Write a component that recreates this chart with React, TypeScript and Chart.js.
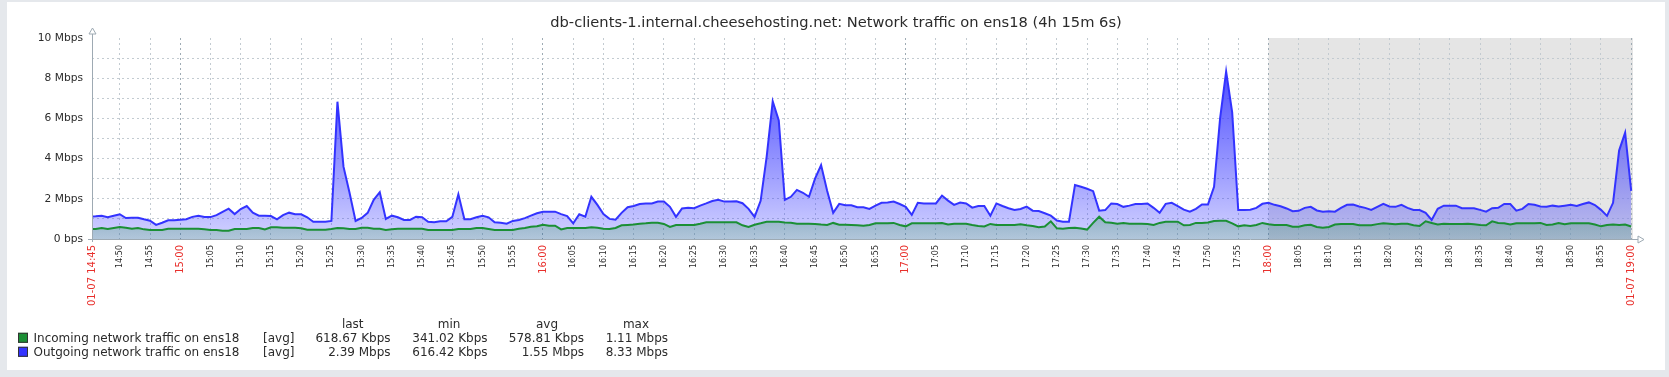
import React, { useEffect, useRef } from 'react';
import { Chart, registerables } from 'chart.js';

Chart.register(...registerables);

const TITLE = 'db-clients-1.internal.cheesehosting.net: Network traffic on ens18 (4h 15m 6s)';

// minutes after 14:45 covered by the plot
const START_MIN = 0.4;
const END_MIN = 255.3;
const WORK_END_MIN = 195; // 18:00, start of the shaded period

// Incoming network traffic on ens18, Mbps, one value per minute from 14:45
const incoming = [
  0.50, 0.50, 0.55, 0.50, 0.55, 0.60, 0.56, 0.51, 0.55, 0.48,
  0.45, 0.45, 0.45, 0.51, 0.51, 0.51, 0.51, 0.51, 0.51, 0.48,
  0.45, 0.45, 0.41, 0.41, 0.50, 0.50, 0.50, 0.55, 0.55, 0.48,
  0.58, 0.58, 0.56, 0.56, 0.56, 0.53, 0.46, 0.46, 0.46, 0.46,
  0.50, 0.55, 0.53, 0.50, 0.50, 0.56, 0.56, 0.51, 0.51, 0.45,
  0.48, 0.51, 0.51, 0.51, 0.51, 0.51, 0.45, 0.45, 0.45, 0.45,
  0.45, 0.50, 0.50, 0.50, 0.55, 0.55, 0.50, 0.45, 0.45, 0.45,
  0.45, 0.51, 0.55, 0.61, 0.63, 0.71, 0.66, 0.66, 0.48, 0.55,
  0.55, 0.55, 0.55, 0.58, 0.56, 0.51, 0.50, 0.55, 0.68, 0.70,
  0.72, 0.76, 0.78, 0.81, 0.81, 0.75, 0.60, 0.70, 0.70, 0.70,
  0.70, 0.76, 0.83, 0.83, 0.83, 0.83, 0.83, 0.83, 0.68, 0.60,
  0.71, 0.78, 0.86, 0.86, 0.86, 0.82, 0.81, 0.76, 0.76, 0.76,
  0.75, 0.72, 0.70, 0.80, 0.71, 0.71, 0.70, 0.68, 0.66, 0.70,
  0.78, 0.78, 0.78, 0.80, 0.70, 0.63, 0.78, 0.78, 0.78, 0.78,
  0.78, 0.80, 0.72, 0.76, 0.76, 0.76, 0.70, 0.65, 0.62, 0.75,
  0.70, 0.70, 0.70, 0.70, 0.73, 0.68, 0.65, 0.58, 0.62, 0.88,
  0.53, 0.51, 0.55, 0.56, 0.52, 0.47, 0.80, 1.11, 0.83, 0.81,
  0.76, 0.80, 0.76, 0.76, 0.76, 0.75, 0.70, 0.80, 0.86, 0.86,
  0.86, 0.68, 0.70, 0.80, 0.80, 0.82, 0.90, 0.91, 0.91, 0.78,
  0.63, 0.68, 0.65, 0.70, 0.80, 0.73, 0.70, 0.70, 0.70, 0.61,
  0.61, 0.68, 0.71, 0.60, 0.56, 0.60, 0.72, 0.75, 0.75, 0.75,
  0.68, 0.68, 0.68, 0.74, 0.78, 0.76, 0.74, 0.76, 0.76, 0.68,
  0.65, 0.88, 0.80, 0.72, 0.76, 0.75, 0.75, 0.75, 0.76, 0.73,
  0.70, 0.68, 0.88, 0.80, 0.78, 0.72, 0.78, 0.78, 0.78, 0.78,
  0.80, 0.70, 0.72, 0.80, 0.74, 0.78, 0.78, 0.78, 0.78, 0.72,
  0.63, 0.70, 0.72, 0.70, 0.72, 0.62,
];

// Outgoing network traffic on ens18, Mbps, one value per minute from 14:45
const outgoing = [
  1.11, 1.13, 1.16, 1.08, 1.16, 1.23, 1.04, 1.06, 1.06, 0.98,
  0.91, 0.70, 0.81, 0.93, 0.93, 0.96, 0.98, 1.10, 1.16, 1.09,
  1.09, 1.19, 1.35, 1.51, 1.24, 1.49, 1.64, 1.31, 1.16, 1.16,
  1.14, 0.98, 1.19, 1.31, 1.23, 1.23, 1.08, 0.86, 0.86, 0.86,
  0.90, 6.83, 3.60, 2.30, 0.90, 1.05, 1.30, 1.95, 2.33, 1.00,
  1.16, 1.08, 0.95, 0.95, 1.11, 1.08, 0.86, 0.83, 0.88, 0.88,
  1.10, 2.22, 0.98, 0.98, 1.08, 1.16, 1.08, 0.83, 0.81, 0.76,
  0.90, 0.95, 1.04, 1.16, 1.28, 1.36, 1.36, 1.36, 1.24, 1.14,
  0.78, 1.23, 1.11, 2.10, 1.70, 1.24, 1.00, 0.96, 1.30, 1.58,
  1.64, 1.74, 1.77, 1.77, 1.86, 1.86, 1.60, 1.10, 1.52, 1.56,
  1.53, 1.66, 1.77, 1.89, 1.95, 1.86, 1.86, 1.88, 1.78, 1.50,
  1.10, 1.90, 4.10, 6.85, 5.90, 1.94, 2.10, 2.44, 2.30, 2.10,
  3.00, 3.68, 2.40, 1.30, 1.75, 1.68, 1.68, 1.58, 1.58, 1.50,
  1.66, 1.80, 1.82, 1.86, 1.74, 1.60, 1.20, 1.80, 1.77, 1.77,
  1.77, 2.16, 1.91, 1.70, 1.81, 1.77, 1.56, 1.64, 1.64, 1.16,
  1.77, 1.64, 1.53, 1.44, 1.49, 1.61, 1.41, 1.39, 1.28, 1.16,
  0.92, 0.86, 0.86, 2.69, 2.60, 2.50, 2.38, 1.41, 1.44, 1.77,
  1.74, 1.60, 1.66, 1.74, 1.74, 1.77, 1.55, 1.30, 1.75, 1.80,
  1.64, 1.46, 1.36, 1.50, 1.72, 1.72, 2.60, 6.00, 8.33, 6.30,
  1.44, 1.44, 1.46, 1.55, 1.75, 1.80, 1.70, 1.63, 1.52, 1.38,
  1.40, 1.55, 1.60, 1.42, 1.36, 1.38, 1.36, 1.55, 1.70, 1.72,
  1.62, 1.55, 1.45, 1.60, 1.75, 1.62, 1.60, 1.70, 1.55, 1.44,
  1.44, 1.30, 0.95, 1.50, 1.66, 1.66, 1.66, 1.53, 1.53, 1.53,
  1.45, 1.36, 1.53, 1.55, 1.74, 1.74, 1.41, 1.50, 1.74, 1.70,
  1.62, 1.60, 1.66, 1.62, 1.66, 1.70, 1.64, 1.74, 1.82, 1.69,
  1.45, 1.15, 1.80, 4.40, 5.29, 2.39,
];

const xTickLabels = [
  '01-07 14:45', '14:50', '14:55', '15:00', '15:05', '15:10', '15:15', '15:20', '15:25', '15:30',
  '15:35', '15:40', '15:45', '15:50', '15:55', '16:00', '16:05', '16:10', '16:15', '16:20',
  '16:25', '16:30', '16:35', '16:40', '16:45', '16:50', '16:55', '17:00', '17:05', '17:10',
  '17:15', '17:20', '17:25', '17:30', '17:35', '17:40', '17:45', '17:50', '17:55', '18:00',
  '18:05', '18:10', '18:15', '18:20', '18:25', '18:30', '18:35', '18:40', '18:45', '18:50',
  '18:55', '01-07 19:00',
];

const yTickValues = [0, 2, 4, 6, 8, 10];
const yTickLabels = ['0 bps', '2 Mbps', '4 Mbps', '6 Mbps', '8 Mbps', '10 Mbps'];

const legendNames = ['Incoming network traffic on ens18', 'Outgoing network traffic on ens18'];
const legendFunc = ['[avg]', '[avg]'];
const legendHeaders = ['last', 'min', 'avg', 'max'];
const legendLast = ['618.67 Kbps', '2.39 Mbps'];
const legendMin = ['341.02 Kbps', '616.42 Kbps'];
const legendAvg = ['578.81 Kbps', '1.55 Mbps'];
const legendMax = ['1.11 Mbps', '8.33 Mbps'];

const GREEN = '#1b8f35';
const GREEN_RGB = '27,143,53';
const BLUE = '#3333ff';
const BLUE_RGB = '51,51,255';
const FONT = '"DejaVu Sans", "Liberation Sans", sans-serif';
const TEXT = '#2b2b2b';
const RED = '#e8302c';
const GRID = '#c3cbd1';
const GRID_HOUR = '#9eabb4';
const AXIS = '#9eaab3';

const labelMinutes = (lab: string) => {
  const hm = lab.slice(-5);
  const h = parseInt(hm.slice(0, 2), 10);
  const m = parseInt(hm.slice(3), 10);
  const v = h * 60 + m - (14 * 60 + 45);
  return Math.min(Math.max(v, START_MIN), END_MIN);
};
const xTickValues = xTickLabels.map(labelMinutes);
const isMajorLabel = (lab: string) => lab.length > 5 || lab.endsWith(':00');

const gradientFill = (rgb: string, a0: number) => (ctx: any) => {
  const chart = ctx.chart;
  const area = chart.chartArea;
  if (!area) return `rgba(${rgb},0.3)`;
  const g = chart.ctx.createLinearGradient(0, area.bottom, 0, area.top);
  g.addColorStop(0, `rgba(${rgb},${a0})`);
  g.addColorStop(1, `rgba(${rgb},1)`);
  return g;
};

const framePlugin = {
  id: 'zbxFrame',
  beforeDraw(chart: any) {
    const c = chart.ctx;
    const { right, top, bottom } = chart.chartArea;
    c.save();
    c.fillStyle = '#e5e8ec';
    c.fillRect(0, 0, chart.width, chart.height);
    c.fillStyle = '#ffffff';
    c.fillRect(7, 2, 1658, 368);
    const xs = chart.scales.x.getPixelForValue(WORK_END_MIN);
    c.fillStyle = '#e5e5e5';
    c.fillRect(xs, top, right - xs, bottom - top);
    c.restore();
  },
  afterDraw(chart: any) {
    const c = chart.ctx;
    const { left, right, top, bottom } = chart.chartArea;
    c.save();
    // axes
    c.strokeStyle = AXIS;
    c.lineWidth = 1;
    c.beginPath();
    c.moveTo(left + 0.5, top - 4);
    c.lineTo(left + 0.5, bottom + 3);
    c.moveTo(left - 4, bottom + 0.5);
    c.lineTo(right + 5, bottom + 0.5);
    c.stroke();
    c.fillStyle = '#ffffff';
    c.beginPath();
    c.moveTo(left + 0.5, top - 10);
    c.lineTo(left - 3, top - 4);
    c.lineTo(left + 4, top - 4);
    c.closePath();
    c.fill();
    c.stroke();
    c.beginPath();
    c.moveTo(right + 11, bottom + 0.5);
    c.lineTo(right + 5, bottom - 3);
    c.lineTo(right + 5, bottom + 4);
    c.closePath();
    c.fill();
    c.stroke();

    // title
    c.fillStyle = TEXT;
    c.font = `14.67px ${FONT}`;
    c.textAlign = 'center';
    c.textBaseline = 'alphabetic';
    c.fillText(TITLE, 836, 26.5);

    // legend
    c.font = `12px ${FONT}`;
    const headerX = [352.7, 449, 547, 636];
    legendHeaders.forEach((h, i) => c.fillText(h, headerX[i], 328.3));
    const baselines = [342.3, 356.3];
    const colors = [GREEN, BLUE];
    const valueRight = [390.6, 487.5, 584, 668];
    const cols = [legendLast, legendMin, legendAvg, legendMax];
    baselines.forEach((by, r) => {
      c.fillStyle = colors[r];
      c.fillRect(18, by - 9.5, 10, 10);
      c.strokeStyle = '#333';
      c.strokeRect(18.5, by - 9, 9, 9);
      c.fillStyle = TEXT;
      c.textAlign = 'left';
      c.fillText(legendNames[r], 33.5, by);
      c.fillText(legendFunc[r], 263, by);
      c.textAlign = 'right';
      cols.forEach((col, k) => c.fillText(col[r], valueRight[k], by));
    });
    c.restore();
  },
};

export default function App() {
  const ref = useRef<HTMLCanvasElement | null>(null);
  useEffect(() => {
    document.body.style.margin = '0';
    const canvas = ref.current;
    if (!canvas) return;
    const chart = new Chart(canvas, {
      type: 'line',
      data: {
        datasets: [
          {
            label: legendNames[0],
            data: incoming.map((y, i) => ({ x: i, y })),
            borderColor: GREEN,
            borderWidth: 2,
            pointRadius: 0,
            tension: 0,
            fill: 'origin',
            backgroundColor: gradientFill(GREEN_RGB, 0.18),
          },
          {
            label: legendNames[1],
            data: outgoing.map((y, i) => ({ x: i, y })),
            borderColor: BLUE,
            borderWidth: 2,
            pointRadius: 0,
            tension: 0,
            fill: 'origin',
            backgroundColor: gradientFill(BLUE_RGB, 0.22),
          },
        ],
      },
      options: {
        animation: false,
        responsive: false,
        devicePixelRatio: 1,
        layout: { padding: { left: 0, top: 38, right: 36, bottom: 0 } },
        plugins: {
          legend: { display: false },
          tooltip: { enabled: false },
          title: { display: false },
        },
        scales: {
          x: {
            type: 'linear',
            min: START_MIN,
            max: END_MIN,
            z: 1,
            afterBuildTicks: (s: any) => {
              s.ticks = xTickValues.map((v) => ({ value: v }));
            },
            afterFit: (s: any) => {
              s.height = 138;
            },
            grid: {
              drawTicks: false,
              lineWidth: 1,
              color: (ctx: any) => {
                const lab = xTickLabels[ctx.index];
                if (!lab) return GRID;
                return isMajorLabel(lab) ? GRID_HOUR : GRID;
              },
            },
            border: { display: false, dash: [2, 3] },
            ticks: {
              autoSkip: false,
              minRotation: 90,
              maxRotation: 90,
              padding: 6,
              callback: (_v: any, i: number) => xTickLabels[i],
              font: (ctx: any) => {
                const lab = xTickLabels[ctx.index] || '';
                return { family: FONT, size: isMajorLabel(lab) ? 10 : 8 };
              },
              color: (ctx: any) => {
                const lab = xTickLabels[ctx.index] || '';
                return isMajorLabel(lab) ? RED : TEXT;
              },
            },
          },
          y: {
            min: 0,
            max: 10,
            z: 1,
            afterFit: (s: any) => {
              s.width = 92;
            },
            grid: {
              drawTicks: false,
              lineWidth: 1,
              color: (ctx: any) => {
                const v = ctx.tick ? ctx.tick.value : 0;
                return v === 0 || v === 10 ? 'rgba(0,0,0,0)' : GRID;
              },
            },
            border: { display: false, dash: [2, 3] },
            ticks: {
              stepSize: 1,
              padding: 9,
              color: TEXT,
              font: { family: FONT, size: 10.67 },
              callback: (v: any) => {
                const idx = yTickValues.indexOf(Number(v));
                return idx >= 0 ? yTickLabels[idx] : '';
              },
            },
          },
        },
      } as any,
      plugins: [framePlugin],
    });
    return () => chart.destroy();
  }, []);
  return (
    <div style={{ width: 1669, height: 377 }}>
      <canvas ref={ref} width={1669} height={377} style={{ display: 'block', width: 1669, height: 377 }} />
    </div>
  );
}
